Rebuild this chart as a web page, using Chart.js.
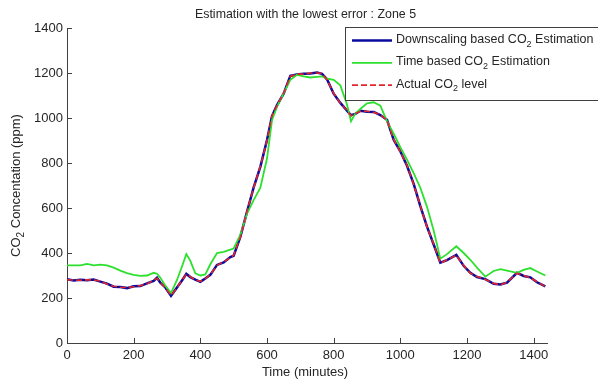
<!DOCTYPE html>
<html>
<head>
<meta charset="utf-8">
<script src="https://cdn.jsdelivr.net/npm/chart.js@4/dist/chart.umd.min.js"></script>
<style>
  html, body { margin: 0; padding: 0; background: #fff; }
  canvas { display: block; }
</style>
</head>
<body>
<canvas id="co2Chart" width="598" height="382"></canvas>
<script>
// thời gian (phút) dùng chung cho cả ba đường
const minutes = [0, 20, 40, 60, 80, 100, 120, 140, 160, 180, 200, 220, 240, 260, 270, 280, 295, 312, 330, 345,
  358, 370, 385, 400, 415, 430, 450, 470, 490, 500, 520, 540, 560, 580, 600, 615, 630, 650, 670, 690,
  710, 730, 750, 765, 780, 800, 820, 840, 852, 865, 880, 900, 920, 940, 960, 980, 1000, 1020, 1040, 1060,
  1080, 1100, 1120, 1140, 1168, 1190, 1210, 1230, 1255, 1280, 1300, 1320, 1350, 1370, 1390, 1410, 1435];

const actualCO2 = [281, 280, 279, 281, 280, 275, 262, 252, 248, 246, 250, 255, 263, 278, 288, 270, 245, 212, 245, 280,
  305, 295, 280, 274, 285, 305, 345, 360, 380, 390, 470, 585, 690, 785, 900, 1010, 1055, 1110, 1185, 1195,
  1195, 1200, 1200, 1198, 1170, 1110, 1065, 1035, 1010, 1020, 1030, 1030, 1025, 1015, 990, 905, 850, 790, 705, 610,
  515, 440, 355, 370, 390, 345, 310, 295, 282, 265, 258, 270, 310, 300, 290, 272, 250];

const downscalingCO2 = [283, 278, 281, 279, 282, 273, 264, 250, 249, 244, 252, 253, 265, 276, 290, 268, 247, 210, 247, 278,
  307, 293, 282, 272, 287, 303, 347, 358, 382, 388, 472, 583, 692, 783, 902, 1008, 1057, 1108, 1187, 1193,
  1197, 1198, 1202, 1196, 1172, 1108, 1067, 1033, 1012, 1018, 1032, 1028, 1027, 1013, 992, 903, 852, 788, 707, 608,
  517, 438, 357, 368, 392, 343, 312, 293, 284, 263, 260, 268, 312, 298, 292, 270, 252];

const timeBasedCO2 = [345, 345, 345, 352, 345, 348, 345, 335, 322, 311, 303, 298, 300, 312, 308, 290, 255, 222, 280, 340,
  395, 365, 310, 300, 305, 350, 400, 405, 415, 420, 480, 575, 635, 690, 820, 990, 1050, 1110, 1170, 1192,
  1185, 1180, 1183, 1185, 1175, 1170, 1145, 1060, 985, 1020, 1040, 1065, 1070, 1055, 985, 930, 870, 815, 755, 690,
  605, 500, 375, 395, 430, 400, 370, 335, 295, 320, 328, 322, 312, 325, 333, 318, 300];

const xTicks = [0, 200, 400, 600, 800, 1000, 1200, 1400];
const yTicks = [0, 200, 400, 600, 800, 1000, 1200, 1400];

const FONT = "'Liberation Sans', Arial, sans-serif";
const TEXT_COLOR = '#262626';
const AXIS_COLOR = '#404040';

function toPoints(values) {
  return minutes.map((m, i) => ({ x: m, y: values[i] }));
}

// vẽ chữ có chỉ số dưới (CO2)
function drawRich(ctx, parts, x, y, size, align) {
  const subSize = Math.round(size * 0.75);
  let total = 0;
  parts.forEach(p => {
    ctx.font = (p.sub ? subSize : size) + 'px ' + FONT;
    p.w = ctx.measureText(p.text).width;
    total += p.w;
  });
  let cx = align === 'center' ? x - total / 2 : x;
  ctx.textAlign = 'left';
  ctx.textBaseline = 'middle';
  parts.forEach(p => {
    ctx.font = (p.sub ? subSize : size) + 'px ' + FONT;
    ctx.fillText(p.text, cx, p.sub ? y + size * 0.38 : y);
    cx += p.w;
  });
}

const legendItems = [
  { parts: [{ text: 'Downscaling based CO' }, { text: '2', sub: true }, { text: ' Estimation' }], color: '#0a0a9c', width: 2.5, dash: [] },
  { parts: [{ text: 'Time based CO' }, { text: '2', sub: true }, { text: ' Estimation' }], color: '#2de02d', width: 1.8, dash: [] },
  { parts: [{ text: 'Actual CO' }, { text: '2', sub: true }, { text: ' level' }], color: '#e3262e', width: 1.6, dash: [6, 3] }
];

const decorPlugin = {
  id: 'decor',
  afterDraw(chart) {
    const ctx = chart.ctx;
    const area = chart.chartArea;
    const xs = chart.scales.x;
    const ys = chart.scales.y;
    ctx.save();

    // vạch chia hướng vào trong
    ctx.strokeStyle = AXIS_COLOR;
    ctx.lineWidth = 1;
    ctx.beginPath();
    xTicks.forEach(v => {
      const px = Math.round(xs.getPixelForValue(v)) + 0.5;
      ctx.moveTo(px, area.bottom);
      ctx.lineTo(px, area.bottom - 5);
    });
    yTicks.forEach(v => {
      const py = Math.round(ys.getPixelForValue(v)) + 0.5;
      ctx.moveTo(area.left, py);
      ctx.lineTo(area.left + 5, py);
    });
    ctx.stroke();

    // tiêu đề và nhãn trục
    ctx.fillStyle = TEXT_COLOR;
    ctx.textAlign = 'center';
    ctx.textBaseline = 'middle';
    ctx.font = '12.4px ' + FONT;
    ctx.fillText('Estimation with the lowest error : Zone 5', 305.5, 15);
    ctx.font = '13px ' + FONT;
    ctx.fillText('Time (minutes)', 305, 372);

    ctx.save();
    ctx.translate(16, (area.top + area.bottom) / 2);
    ctx.rotate(-Math.PI / 2);
    drawRich(ctx, [{ text: 'CO' }, { text: '2', sub: true }, { text: ' Concentation (ppm)' }], 0, 0, 13, 'center');
    ctx.restore();

    // chú thích
    const bx = 345.5, by = 27.5, bw = 270, bh = 73;
    ctx.fillStyle = '#fff';
    ctx.fillRect(bx, by, bw, bh);
    ctx.strokeStyle = AXIS_COLOR;
    ctx.strokeRect(bx, by, bw, bh);
    legendItems.forEach((item, i) => {
      const ly = 40.5 + i * 22.3;
      ctx.strokeStyle = item.color;
      ctx.lineWidth = item.width;
      ctx.setLineDash(item.dash);
      ctx.beginPath();
      ctx.moveTo(352, ly);
      ctx.lineTo(392, ly);
      ctx.stroke();
      ctx.setLineDash([]);
      ctx.fillStyle = TEXT_COLOR;
      drawRich(ctx, item.parts, 396, ly - 1, 12.5, 'left');
    });
    ctx.restore();
  }
};

new Chart(document.getElementById('co2Chart').getContext('2d'), {
  type: 'line',
  data: {
    datasets: [
      {
        label: 'Actual CO2 level',
        data: toPoints(actualCO2),
        borderColor: '#e3262e',
        borderWidth: 1.6,
        borderDash: [6, 3],
        pointRadius: 0,
        tension: 0,
        order: 0
      },
      {
        label: 'Time based CO2 Estimation',
        data: toPoints(timeBasedCO2),
        borderColor: '#2de02d',
        borderWidth: 1.8,
        pointRadius: 0,
        tension: 0,
        order: 1
      },
      {
        label: 'Downscaling based CO2 Estimation',
        data: toPoints(downscalingCO2),
        borderColor: '#0a0a9c',
        borderWidth: 2.5,
        pointRadius: 0,
        tension: 0,
        order: 2
      }
    ]
  },
  options: {
    responsive: false,
    animation: false,
    devicePixelRatio: 1,
    layout: { padding: { top: 28, right: 51, left: 0, bottom: 0 } },
    plugins: {
      legend: { display: false },
      title: { display: false },
      tooltip: { enabled: false }
    },
    scales: {
      x: {
        type: 'linear',
        min: 0,
        max: 1440,
        afterBuildTicks: s => { s.ticks = xTicks.map(v => ({ value: v })); },
        afterFit: s => { s.height = 39; },
        grid: { display: false, drawTicks: false },
        border: { display: true, color: AXIS_COLOR, width: 1 },
        ticks: { font: { family: FONT, size: 13 }, color: TEXT_COLOR, padding: 5, maxRotation: 0, callback: v => String(v) }
      },
      y: {
        type: 'linear',
        min: 0,
        max: 1400,
        afterBuildTicks: s => { s.ticks = yTicks.map(v => ({ value: v })); },
        afterFit: s => { s.width = 67; },
        grid: { display: false, drawTicks: false },
        border: { display: true, color: AXIS_COLOR, width: 1 },
        ticks: { font: { family: FONT, size: 13 }, color: TEXT_COLOR, padding: 4, callback: v => String(v) }
      }
    }
  },
  plugins: [decorPlugin]
});
</script>
</body>
</html>
